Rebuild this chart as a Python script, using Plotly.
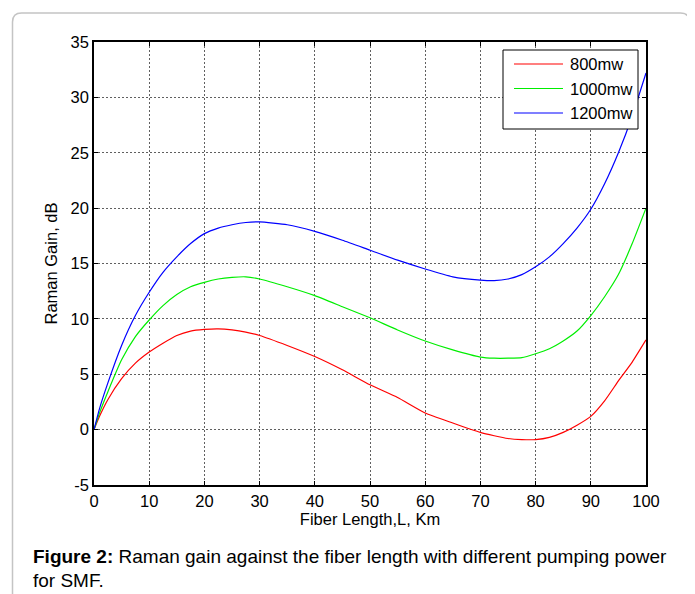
import plotly.graph_objects as go

# ---- data ----
fiber_km = [0, 1, 2.5, 5, 7.5, 10, 12.5, 15, 17.5, 20, 22.5, 25, 27.5, 30, 35, 40, 45,
            50, 55, 60, 65, 70, 72.5, 75, 77.5, 80, 82.5, 85, 87.5, 90, 92.5, 95, 97.5, 100]
gain_800 = [0, 1.2, 2.7, 4.6, 6.0, 7.0, 7.8, 8.5, 8.9, 9.05, 9.1, 9.0, 8.8, 8.5, 7.6, 6.6, 5.4,
            4.05, 2.9, 1.5, 0.6, -0.25, -0.55, -0.8, -0.9, -0.9, -0.7, -0.25, 0.4, 1.2, 2.6, 4.4, 6.1, 8.1]
gain_1000 = [0, 1.5, 3.4, 6.3, 8.4, 9.9, 11.2, 12.2, 12.9, 13.3, 13.6, 13.75, 13.8, 13.6, 12.9, 12.1, 11.1,
             10.1, 9.0, 8.0, 7.2, 6.55, 6.45, 6.45, 6.5, 6.85, 7.3, 8.0, 8.9, 10.3, 12.0, 14.0, 16.8, 20.0]
gain_1200 = [0, 1.9, 4.2, 7.6, 10.3, 12.4, 14.2, 15.6, 16.8, 17.7, 18.2, 18.5, 18.7, 18.75, 18.5, 17.9, 17.1,
             16.2, 15.3, 14.5, 13.8, 13.5, 13.45, 13.6, 14.0, 14.7, 15.6, 16.8, 18.2, 19.9, 22.2, 25.0, 28.3, 32.2]
series_names = ["800mw", "1000mw", "1200mw"]
series_colors = ["#ff0000", "#00ee00", "#0000ff"]
x_ticks = list(range(0, 101, 10))
y_ticks = list(range(-5, 36, 5))
y_tick_labels = [str(v) for v in y_ticks]

FONT = "Liberation Sans, Arial, sans-serif"

fig = go.Figure()
for name, vals, col in zip(series_names, [gain_800, gain_1000, gain_1200], series_colors):
    fig.add_trace(go.Scatter(x=fiber_km, y=vals, mode="lines", name=name, showlegend=False,
                             line=dict(color=col, width=1.2, shape="spline", smoothing=0.5)))

# page has an 8px body margin, so the figure is 8px smaller than the window
OFF = 8
W, H = 695 - OFF, 594 - OFF
L, R, T, B = 86, 49, 34, 109
pw, ph = W - L - R, H - T - B


def px(x):  # page pixel x -> paper
    return (x - OFF - L) / pw


def py(y):  # page pixel y -> paper
    return (H - B - (y - OFF)) / ph


# rounded outer frame
x0, x1, y0, y1, r = 12.5, 689.5, 13, 640, 9
path = (f"M {px(x0)},{py(y1)} L {px(x0)},{py(y0 + r)} Q {px(x0)},{py(y0)} {px(x0 + r)},{py(y0)} "
        f"L {px(x1 - r)},{py(y0)} Q {px(x1)},{py(y0)} {px(x1)},{py(y0 + r)} L {px(x1)},{py(y1)}")
fig.add_shape(type="path", path=path, xref="paper", yref="paper",
              line=dict(color="#c4c4c4", width=1.5), layer="below")

axis_common = dict(showline=True, linecolor="black", linewidth=1.5, mirror="ticks",
                   ticks="inside", ticklen=4, tickcolor="black", showgrid=True,
                   gridcolor="#606060", griddash="2px,2px", gridwidth=1, zeroline=False,
                   tickfont=dict(family=FONT, size=16.5, color="black"))

fig.update_xaxes(range=[0, 100], tickvals=x_ticks,
                 title=dict(text="Fiber Length,L, Km", font=dict(family=FONT, size=16.5, color="black"),
                            standoff=4), **axis_common)
fig.update_yaxes(range=[-5, 35], tickvals=y_ticks, ticktext=y_tick_labels,
                 title=dict(text="Raman Gain, dB", font=dict(family=FONT, size=16.5, color="black"),
                            standoff=9), **axis_common)

# legend box drawn from the series names / colours
fig.add_shape(type="rect", xref="paper", yref="paper", x0=px(503), x1=px(638), y0=py(129), y1=py(50),
              line=dict(color="black", width=1), fillcolor="white", layer="above")
for i, (name, col) in enumerate(zip(series_names, series_colors)):
    yy = 64 + i * 24.5
    fig.add_shape(type="line", xref="paper", yref="paper", x0=px(514), x1=px(563), y0=py(yy), y1=py(yy),
                  line=dict(color=col, width=1.2), layer="above")
    fig.add_annotation(xref="paper", yref="paper", x=px(568), y=py(yy), xanchor="left", yanchor="middle",
                       showarrow=False, text=name, font=dict(family=FONT, size=16.5, color="black"))

fig.add_annotation(xref="paper", yref="paper", x=px(31), y=py(556), xanchor="left", yanchor="middle",
                   showarrow=False, align="left",
                   text="<b>Figure 2:</b> Raman gain against the fiber length with different pumping power",
                   font=dict(family=FONT, size=19, color="black"))
fig.add_annotation(xref="paper", yref="paper", x=px(31), y=py(580), xanchor="left", yanchor="middle",
                   showarrow=False, align="left", text="for SMF.",
                   font=dict(family=FONT, size=19, color="black"))

fig.update_layout(
    width=W, height=H, margin=dict(l=L, r=R, t=T, b=B),
    paper_bgcolor="white", plot_bgcolor="white",
    font=dict(family=FONT, size=15, color="black"),
    showlegend=False,
)

fig.write_html("out.html")
